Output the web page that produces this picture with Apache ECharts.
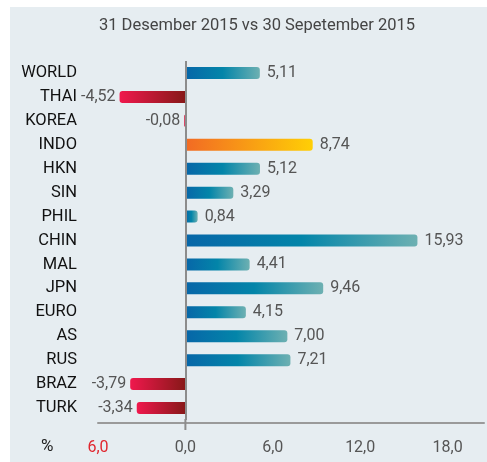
<!DOCTYPE html>
<html>
<head>
<meta charset="utf-8">
<style>
  html, body { margin: 0; padding: 0; background: #ffffff; }
  #chart { width: 487px; height: 462px; }
</style>
<script src="https://cdn.jsdelivr.net/npm/echarts@6/dist/echarts.min.js"></script>
</head>
<body>
<div id="chart"></div>
<script>
// ---- data ----
const categories = ['WORLD', 'THAI', 'KOREA', 'INDO', 'HKN', 'SIN', 'PHIL', 'CHIN', 'MAL', 'JPN', 'EURO', 'AS', 'RUS', 'BRAZ', 'TURK'];
const values = [5.11, -4.52, -0.08, 8.74, 5.12, 3.29, 0.84, 15.93, 4.41, 9.46, 4.15, 7.00, 7.21, -3.79, -3.34];
const highlighted = ['INDO'];
const xTicks = [-6, 0, 6, 12, 18];
const titleText = '31 Desember 2015 vs 30 Sepetember 2015';
const unitText = '%';

// ---- styles ----
const FONT = 'Roboto, "Liberation Sans", sans-serif';
const grad = (stops) => new echarts.graphic.LinearGradient(0, 0, 1, 0,
  stops.map((c, i) => ({ offset: i / (stops.length - 1), color: c })));
const blue = () => grad(['#0766a8', '#0385a9', '#6db0b2']);
const orange = () => grad(['#f26a24', '#ffcf05']);
const red = () => grad(['#f0184d', '#871818']);

const fmt = v => v.toFixed(2).replace('.', ',');

const seriesData = values.map((v, i) => {
  const isHi = highlighted.includes(categories[i]);
  const neg = v < 0;
  return {
    value: v,
    itemStyle: {
      color: neg ? red() : (isHi ? orange() : blue()),
      borderRadius: neg ? [3, 0, 0, 3] : [0, 3, 3, 0]
    },
    label: { position: neg ? 'left' : 'right', distance: neg ? 4 : 7 }
  };
});

const chart = echarts.init(document.getElementById('chart'), null, { renderer: 'canvas' });

const bgRect = { type: 'rect', z: -10, silent: true, shape: { x: 10, y: 7, width: 477, height: 455 }, style: { fill: '#e6edf1' } };
const unitLabel = { type: 'text', left: 41, top: 438, silent: true, style: { text: unitText, font: '17px ' + FONT, fill: '#222222' } };

const option = {
  animation: false,
  backgroundColor: '#ffffff',
  title: {
    text: titleText,
    left: 252, top: 12, textAlign: 'center',
    textStyle: { fontFamily: FONT, fontSize: 16.5, fontWeight: 'normal', color: '#444444' }
  },
  grid: { left: 98, right: 1, top: 61, height: 359, containLabel: false },
  xAxis: {
    type: 'value',
    min: -6, max: 20.5, interval: 6,
    offset: 3,
    axisLine: { show: true, lineStyle: { color: '#9a9a9a', width: 2 } },
    axisTick: { show: false },
    splitLine: { show: false },
    axisLabel: {
      margin: 17,
      fontFamily: FONT, fontSize: 16, color: '#555555',
      formatter: v => {
        if (!xTicks.includes(v)) return '';
        const s = Math.abs(v).toFixed(1).replace('.', ',');
        return v < 0 ? '{r|' + s + '}' : s;
      },
      rich: { r: { fontFamily: FONT, fontSize: 16, color: '#e0262e' } }
    }
  },
  yAxis: {
    type: 'category',
    data: categories,
    inverse: true,
    axisLine: { show: false },
    axisTick: { show: false },
    axisLabel: { margin: 21, fontFamily: FONT, fontSize: 16.5, color: '#111111' }
  },
  series: [{
    type: 'bar',
    data: seriesData,
    barWidth: 12,
    label: {
      show: true,
      fontFamily: FONT, fontSize: 16, color: '#555555',
      formatter: p => fmt(p.value)
    },
    markLine: {
      silent: true,
      symbol: 'none',
      label: { show: false },
      lineStyle: { color: '#8c8c8c', width: 2, type: 'solid' },
      data: [{ xAxis: 0 }]
    },
    z: 3
  }],
  graphic: [bgRect, unitLabel]
};
chart.setOption(option);

// extend the zero line slightly below the axis like a tick
const x0 = chart.convertToPixel({ xAxisIndex: 0 }, 0);
chart.setOption({
  graphic: [
    bgRect, unitLabel,
    { type: 'line', silent: true, z: 5, shape: { x1: x0, y1: 419, x2: x0, y2: 430 }, style: { stroke: '#8c8c8c', lineWidth: 2 } }
  ]
});
</script>
</body>
</html>
